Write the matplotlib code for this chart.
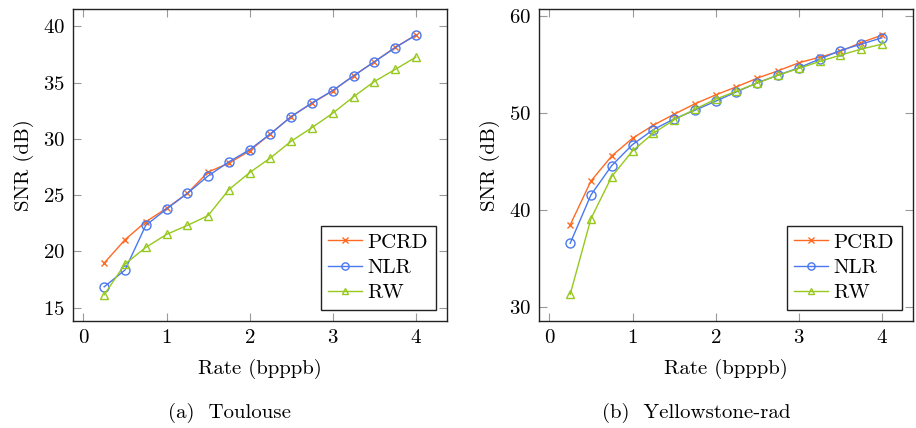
import matplotlib
matplotlib.use("Agg")
import matplotlib.pyplot as plt

plt.rcParams['font.family'] = ['cmr10', 'DejaVu Serif']
plt.rcParams['axes.formatter.use_mathtext'] = True
plt.rcParams['mathtext.fontset'] = 'cm'

rates = [0.25, 0.5, 0.75, 1.0, 1.25, 1.5, 1.75, 2.0, 2.25, 2.5, 2.75, 3.0, 3.25, 3.5, 3.75, 4.0]

tou_pcrd = [18.95, 21.03, 22.62, 23.82, 25.15, 27.05, 27.83, 28.93, 30.44, 31.98, 33.17, 34.27, 35.61, 36.85, 38.13, 39.23]
tou_nlr = [16.84, 18.33, 22.30, 23.76, 25.15, 26.70, 27.95, 29.04, 30.44, 31.98, 33.20, 34.30, 35.60, 36.85, 38.10, 39.23]
tou_rw = [16.13, 18.86, 20.34, 21.50, 22.30, 23.17, 25.48, 27.00, 28.30, 29.79, 31.00, 32.28, 33.74, 35.10, 36.17, 37.27]

yel_pcrd = [38.48, 43.00, 45.58, 47.40, 48.74, 49.87, 50.94, 51.86, 52.69, 53.58, 54.34, 55.16, 55.74, 56.33, 57.25, 58.00]
yel_nlr = [36.59, 41.57, 44.59, 46.75, 48.29, 49.39, 50.28, 51.21, 52.17, 53.10, 53.89, 54.64, 55.54, 56.43, 57.08, 57.73]
yel_rw = [31.34, 39.13, 43.45, 46.10, 47.92, 49.29, 50.39, 51.42, 52.24, 53.07, 53.89, 54.58, 55.30, 55.95, 56.57, 57.08]

series_names = ['PCRD', 'NLR', 'RW']
x_ticks = [0, 1, 2, 3, 4]
tou_yticks = [15, 20, 25, 30, 35, 40]
yel_yticks = [30, 40, 50, 60]
captions = ['(a)  Toulouse', '(b)  Yellowstone-rad']

colors = ['#FF6A22', '#4A78F0', '#96C81E']
markers = ['x', 'o', '^']
msizes = [5, 6.5, 6]

FS = 15

fig = plt.figure(figsize=(9.16, 4.28), dpi=100)
W, H = 916, 428

def make_ax(x0, x1, y0, y1):
    return fig.add_axes([x0 / W, 1 - y1 / H, (x1 - x0) / W, (y1 - y0) / H])

axL = make_ax(73, 447, 9, 321)
axR = make_ax(539, 913, 9, 321)

for ax, data, yt, ylim in [
    (axL, [tou_pcrd, tou_nlr, tou_rw], tou_yticks, (13.8, 41.55)),
    (axR, [yel_pcrd, yel_nlr, yel_rw], yel_yticks, (28.6, 60.7)),
]:
    for vals, name, c, m, ms in zip(data, series_names, colors, markers, msizes):
        ax.plot(rates, vals, color=c, marker=m, markersize=ms, lw=1.0,
                markerfacecolor='none', markeredgecolor=c, markeredgewidth=1.0,
                label=name)
    ax.set_xlim(-0.125, 4.375)
    ax.set_ylim(*ylim)
    ax.set_xticks(x_ticks)
    ax.set_yticks(yt)
    ax.tick_params(direction='in', length=6, width=0.8, color='#999999',
                   top=True, right=True, labelsize=FS, pad=6)
    for sp in ax.spines.values():
        sp.set_linewidth(1.0)
        sp.set_color('#222222')
    ax.set_xlabel('Rate (bpppb)', fontsize=FS, labelpad=8)
    ax.set_ylabel('SNR (dB)', fontsize=FS, labelpad=6)
    leg = ax.legend(loc='lower right', fontsize=FS, frameon=True, fancybox=False,
                    edgecolor='#222222', framealpha=1, handlelength=1.6,
                    handletextpad=0.3, labelspacing=0.32, borderpad=0.35,
                    borderaxespad=0.55)
    leg.get_frame().set_linewidth(1.0)
    for h in leg.legend_handles:
        h.set_markersize(h.get_markersize() * 0.8)

fig.text(229 / W, 1 - 413 / H, captions[0], ha='center', va='center', fontsize=FS)
fig.text(696 / W, 1 - 413 / H, captions[1], ha='center', va='center', fontsize=FS)

fig.savefig('out.png', dpi=100)
